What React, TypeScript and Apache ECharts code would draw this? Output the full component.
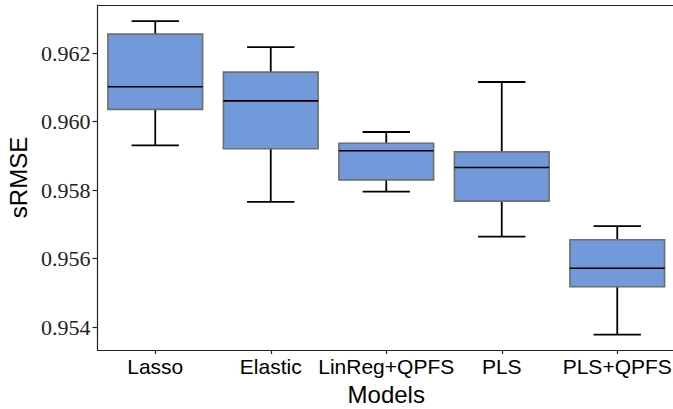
import React, { useEffect, useRef } from "react";
import * as echarts from "echarts";

const categories = ["Lasso", "Elastic", "LinReg+QPFS", "PLS", "PLS+QPFS"];
const whiskerLow = [0.95931, 0.95766, 0.95796, 0.95664, 0.95378];
const q1 = [0.96036, 0.95921, 0.9583, 0.95768, 0.95518];
const median = [0.96102, 0.96061, 0.95915, 0.95866, 0.95572];
const q3 = [0.96256, 0.96145, 0.95937, 0.95912, 0.95655];
const whiskerHigh = [0.96294, 0.96218, 0.9597, 0.96116, 0.95695];
const yTicks = [0.954, 0.956, 0.958, 0.96, 0.962];

const SANS = "Liberation Sans";
const SERIF = "Liberation Serif";

export default function App() {
  const ref = useRef<HTMLDivElement>(null);
  useEffect(() => {
    if (!ref.current) return;
    const chart = echarts.init(ref.current, null, { renderer: "svg" });
    const data = categories.map((_, i) => [i, whiskerLow[i], q1[i], median[i], q3[i], whiskerHigh[i]]);
    const isTick = (v: number) => yTicks.some((t) => Math.abs(t - v) < 1e-7);
    chart.setOption({
      animation: false,
      grid: { left: 97.5, right: -2, top: 5, bottom: 59, containLabel: false, outerBoundsMode: "none" },
      xAxis: [
        {
          type: "category",
          data: categories,
          position: "bottom",
          name: "Models",
          nameLocation: "middle",
          nameGap: 32,
          nameTextStyle: { fontFamily: SANS, fontSize: 24, color: "#000" },
          axisLine: { show: true, lineStyle: { color: "#222", width: 1.2 } },
          axisTick: { show: true, alignWithLabel: true, length: 4, lineStyle: { color: "#222", width: 1.2 } },
          axisLabel: { fontFamily: SANS, fontSize: 21, color: "#000", margin: 6, interval: 0, hideOverlap: false },
          splitLine: { show: false },
        },
        {
          type: "category",
          data: categories,
          position: "top",
          axisLine: { show: true, lineStyle: { color: "#222", width: 1.2 } },
          axisTick: { show: false },
          axisLabel: { show: false },
          splitLine: { show: false },
        },
      ],
      yAxis: {
        type: "value",
        min: 0.95333,
        max: 0.96341,
        splitNumber: 5,
        name: "sRMSE",
        nameLocation: "middle",
        nameGap: 63,
        nameTextStyle: { fontFamily: SANS, fontSize: 24, color: "#000" },
        axisLine: { show: true, lineStyle: { color: "#222", width: 1.2 } },
        axisTick: { show: true, length: 5, lineStyle: { color: "#222", width: 1.2 } },
        axisLabel: {
          fontFamily: SERIF,
          fontSize: 22,
          color: "#222",
          margin: 7,
          showMinLabel: false,
          showMaxLabel: false,
          formatter: (v: number) => (isTick(v) ? "{s|" + v.toFixed(3) + "}" : ""),
          rich: { s: { fontFamily: SERIF, fontSize: 22, color: "#222" } },
        },
        splitLine: { show: false },
      },
      series: [
        {
          type: "custom",
          xAxisIndex: 0,
          encode: { x: 0, y: [1, 2, 3, 4, 5] },
          data,
          renderItem: (params: any, api: any) => {
            const x = api.value(0);
            const pLow = api.coord([x, api.value(1)]);
            const pQ1 = api.coord([x, api.value(2)]);
            const pMed = api.coord([x, api.value(3)]);
            const pQ3 = api.coord([x, api.value(4)]);
            const pHigh = api.coord([x, api.value(5)]);
            const cx = pMed[0];
            const bw = api.size([1, 0])[0] * 0.82;
            const cap = bw * 0.5;
            const black = { stroke: "#000", lineWidth: 1.8 };
            return {
              type: "group",
              children: [
                { type: "line", shape: { x1: cx, y1: pHigh[1], x2: cx, y2: pQ3[1] }, style: black },
                { type: "line", shape: { x1: cx, y1: pQ1[1], x2: cx, y2: pLow[1] }, style: black },
                { type: "line", shape: { x1: cx - cap / 2, y1: pHigh[1], x2: cx + cap / 2, y2: pHigh[1] }, style: black },
                { type: "line", shape: { x1: cx - cap / 2, y1: pLow[1], x2: cx + cap / 2, y2: pLow[1] }, style: black },
                {
                  type: "rect",
                  shape: { x: cx - bw / 2, y: pQ3[1], width: bw, height: pQ1[1] - pQ3[1] },
                  style: { fill: "#7299d9", stroke: "#6e6e6e", lineWidth: 1.6 },
                },
                { type: "line", shape: { x1: cx - bw / 2, y1: pMed[1], x2: cx + bw / 2, y2: pMed[1] }, style: { stroke: "#000", lineWidth: 1.6 } },
              ],
            };
          },
        },
      ],
    });
    return () => chart.dispose();
  }, []);
  return (
    <div
      ref={ref}
      style={{ position: "fixed", left: 0, top: 0, width: 673, height: 409, background: "#fff" }}
    />
  );
}
